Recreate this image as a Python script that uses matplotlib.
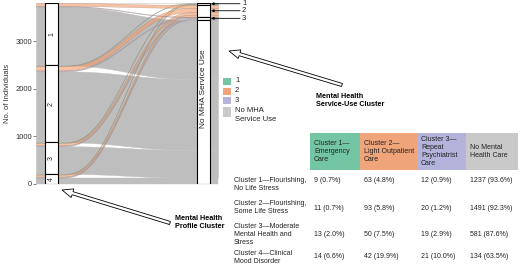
import numpy as np
import matplotlib
matplotlib.use("Agg")
import matplotlib.pyplot as plt
from matplotlib.patches import Rectangle, FancyArrow

# Arial-like font:
plt.rcParams['font.family'] = ['Liberation Sans', 'DejaVu Sans']

# Data: rows = mental health profile cluster, cols = service-use cluster
profile_labels = ["1", "2", "3", "4"]
service_labels = ["1", "2", "3", "No MHA Service Use"]
counts = np.array([[9, 63, 12, 1237],
                   [11, 93, 20, 1491],
                   [13, 50, 19, 581],
                   [14, 42, 21, 134]])
row_names = ["Cluster 1\u2014Flourishing,\nNo Life Stress",
             "Cluster 2\u2014Flourishing,\nSome Life Stress",
             "Cluster 3\u2014Moderate\nMental Health and\nStress",
             "Cluster 4\u2014Clinical\nMood Disorder"]
col_names = ["Cluster 1\u2014\nEmergency\nCare",
             "Cluster 2\u2014\nLight Outpatient\nCare",
             "Cluster 3\u2014\nRepeat\nPsychiatrist\nCare",
             "No Mental\nHealth Care"]
legend_labels = ["1", "2", "3", "No MHA\nService Use"]
y_ticks = [0, 1000, 2000, 3000]

flow_colors = ['#6DC4A1', '#F29A66', '#A7AAD8', '#BEBEBE']
header_colors = ['#74C5A4', '#EFA47A', '#B3B3DC', '#C9C9C9']
text_color = '#222222'

W, H = 520, 265


def px_box(x0, y0, x1, y1):
    # Convert a pixel box (top-left origin) to figure fractions
    return [x0 / W, 1 - y1 / H, (x1 - x0) / W, (y1 - y0) / H]


fig = plt.figure(figsize=(W / 100, H / 100), dpi=100)

# ==================================================================================
# Alluvial part:
ax = fig.add_axes(px_box(36, 2.6, 218, 184))
total = counts.sum()
ax.set_xlim(36, 218)
ax.set_ylim(0, total)

left_tops = total - np.concatenate([[0], np.cumsum(counts.sum(1))[:-1]])
right_tops = total - np.concatenate([[0], np.cumsum(counts.sum(0))[:-1]])

x = np.linspace(36, 218, 500)
t = np.clip((x - 60) / (195 - 60), 0, 1)
s = t ** 3 * (t * (6 * t - 15) + 10)

# Grey flows first, then the coloured ones on top:
for j in [3, 0, 1, 2]:
    for i in range(4):
        lt = left_tops[i] - counts[i, :j].sum()
        rt = right_tops[j] - counts[:i, j].sum()
        top = lt + (rt - lt) * s
        bottom = top - counts[i, j]
        if j == 3:
            ax.fill_between(x, bottom, top, color=flow_colors[j], lw=0.3, edgecolor=flow_colors[j])
        else:
            ax.fill_between(x, bottom, top, facecolor=flow_colors[j], alpha=0.6,
                            edgecolor='#9a8474', lw=0.3)

# Strata boxes:
for i, lab in enumerate(profile_labels):
    n = counts[i].sum()
    ax.add_patch(Rectangle((45, left_tops[i] - n), 13, n, fc='white', ec='black', lw=0.8, zorder=5))
    ax.text(51.5, left_tops[i] - n / 2, lab, rotation=90, ha='center', va='center',
            fontsize=5, color=text_color, zorder=6)
for j, lab in enumerate(service_labels):
    n = counts[:, j].sum()
    ax.add_patch(Rectangle((197, right_tops[j] - n), 13, n, fc='white', ec='black', lw=0.8, zorder=5))
    mid = right_tops[j] - n / 2
    if j == 3:
        ax.text(203.5, total * (184 - 89) / 181.4, lab, rotation=90, ha='center', va='center',
                fontsize=6, color=text_color, zorder=6)
    else:
        ax.annotate('', xy=(211, mid), xytext=(240, mid), annotation_clip=False,
                    arrowprops=dict(arrowstyle='-|>', lw=0.6, color='black', mutation_scale=4,
                                    shrinkA=0, shrinkB=0), zorder=7)
        ax.text(242, mid, lab, ha='left', va='center', fontsize=5.5, color=text_color)

ax.set_xticks([])
ax.set_yticks(y_ticks)
ax.tick_params(axis='y', length=2, width=0.5, color='#555555', labelcolor='#333333',
               labelsize=5.5, pad=1)
for sp in ax.spines.values():
    sp.set_visible(False)
fig.text(8 / W, 1 - 93 / H, "No. of Individuals", rotation=90, ha='center', va='center',
         fontsize=5.5, color='#333333')

# ==================================================================================
# Overlay in pixel coordinates: legend, arrows, table
ov = fig.add_axes([0, 0, 1, 1])
ov.set_xlim(0, W)
ov.set_ylim(H, 0)
ov.axis('off')

# Legend:
leg_y = [77.5, 87.5, 97, 106.5]
leg_h = [7, 7, 7, 10]
for k, lab in enumerate(legend_labels):
    ov.add_patch(Rectangle((223, leg_y[k]), 7.5, leg_h[k], fc=header_colors[k], ec='none'))
    ov.text(235, leg_y[k] + 3.5, lab, ha='left', va='top' if k == 3 else 'center',
            fontsize=5.5, color=text_color, linespacing=1.45)
ov.texts[-1].set_y(leg_y[3] + 0.5)

# Hollow arrows with labels:
ov.add_patch(FancyArrow(342, 85, 229 - 342, 51 - 85, width=3.2, head_width=9, head_length=11,
                        length_includes_head=True, fc='white', ec='black', lw=0.6))
ov.text(316, 101, "Mental Health\nService-Use Cluster", ha='left', va='center', fontsize=5.2,
        fontweight='bold', color='black')
ov.add_patch(FancyArrow(170, 223, 62 - 170, 190 - 223, width=3.2, head_width=9, head_length=11,
                        length_includes_head=True, fc='white', ec='black', lw=0.6))
ov.text(175, 222, "Mental Health\nProfile Cluster", ha='left', va='center', fontsize=5.2,
        fontweight='bold', color='black')

# Table:
col_x = [310, 360, 417, 466, 518]
for k, name in enumerate(col_names):
    ov.add_patch(Rectangle((col_x[k], 133), col_x[k + 1] - col_x[k], 37, fc=header_colors[k], ec='none'))
    ov.text(col_x[k] + 4, 151.5, name, ha='left', va='center', fontsize=5.0, color=text_color,
            linespacing=1.2)

row_label_y = [184, 207.5, 234, 257.5]
row_value_y = [181, 208, 234, 257]
row_totals = counts.sum(1)
for i, name in enumerate(row_names):
    ov.text(234, row_label_y[i], name, ha='left', va='center', fontsize=5.0, color=text_color,
            linespacing=1.2)
    for k in range(4):
        pct = 100 * counts[i, k] / row_totals[i]
        ov.text(col_x[k] + 4, row_value_y[i], "{} ({:.1f}%)".format(counts[i, k], pct),
                ha='left', va='center', fontsize=5.0, color=text_color)

fig.savefig("out.png", dpi=100)
plt.close()
